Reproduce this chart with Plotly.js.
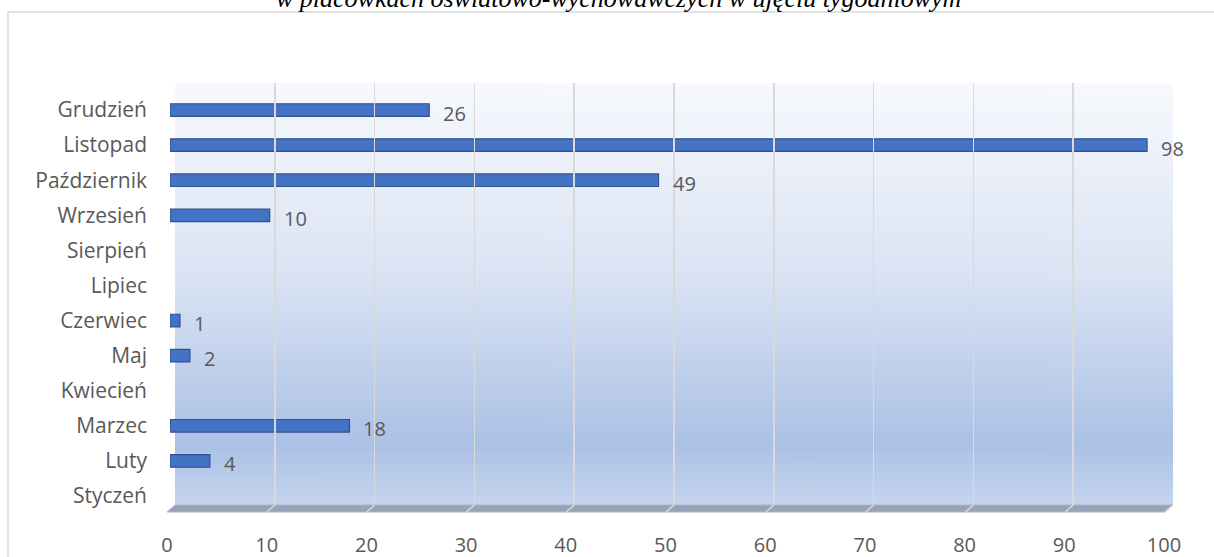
<!DOCTYPE html>
<html>
<head>
<meta charset="utf-8">
<script src="https://cdn.plot.ly/plotly-3.0.1.min.js"></script>
<style>html,body{margin:0;padding:0;background:#fff;}#chart{width:1214px;height:557px;}</style>
</head>
<body>
<div id="chart"></div>
<script>
// ---- data ----
const months = ["Styczeń","Luty","Marzec","Kwiecień","Maj","Czerwiec","Lipiec","Sierpień","Wrzesień","Październik","Listopad","Grudzień"];
const counts = [null, 4, 18, null, 2, 1, null, null, 10, 49, 98, 26];
const xTicks = [0,10,20,30,40,50,60,70,80,90,100];
const titleText = "w placówkach oświatowo-wychowawczych w ujęciu tygodniowym";

// ---- geometry helpers (pixels -> paper) ----
const W = 1214, H = 557;
const px = x => x / W;
const py = y => 1 - y / H;

// background gradient image
const cv = document.createElement('canvas');
cv.width = 4; cv.height = 400;
const cx = cv.getContext('2d');
const g = cx.createLinearGradient(0, 0, 0, 400);
g.addColorStop(0, '#f7f9fd');
g.addColorStop(0.45, '#dbe4f4');
g.addColorStop(0.86, '#abc1e5');
g.addColorStop(1, '#c6d5ee');
cx.fillStyle = g; cx.fillRect(0, 0, 4, 400);
const bgURL = cv.toDataURL();

const font = "'Open Sans', sans-serif";
const txtColor = '#595959';

const trace = {
  type: 'bar', orientation: 'h',
  y: months, x: counts,
  xaxis: 'x', yaxis: 'y',
  marker: {color: '#4472c4', line: {color: '#2f528f', width: 1.2}},
  hoverinfo: 'skip', showlegend: false
};

const annotations = [];
months.forEach((m, i) => {
  if (counts[i] !== null) {
    annotations.push({
      xref: 'x', yref: 'y', x: counts[i], y: m,
      text: String(counts[i]), showarrow: false,
      xanchor: 'left', xshift: 12, yshift: -3,
      font: {family: font, size: 20, color: txtColor}
    });
  }
});
annotations.push({
  xref: 'paper', yref: 'paper', x: px(618), y: py(15),
  xanchor: 'center', yanchor: 'bottom',
  text: '<i>' + titleText + '</i>', showarrow: false,
  font: {family: "'Liberation Serif', serif", size: 26, color: '#000'}
});

const shapes = [
  // outer chart border
  {type: 'rect', xref: 'paper', yref: 'paper', x0: px(8), x1: px(1240), y0: py(12), y1: py(600),
   line: {color: '#d9d9d9', width: 1.5}, fillcolor: 'rgba(0,0,0,0)', layer: 'below'},
  // floor
  {type: 'path', xref: 'paper', yref: 'paper',
   path: `M ${px(175)} ${py(505)} L ${px(1173)} ${py(505)} L ${px(1165)} ${py(512)} L ${px(167)} ${py(512)} Z`,
   fillcolor: '#97a3b7', line: {color: '#aab5c6', width: 1}, layer: 'below'}
];
xTicks.forEach(v => {
  shapes.push({type: 'line', xref: 'x2', yref: 'paper', xsizemode: 'pixel', xanchor: v,
    x0: 0, x1: -8, y0: py(505), y1: py(512), line: {color: '#d9d9d9', width: 1.5}});
});

const layout = {
  width: W, height: H,
  margin: {l: 0, r: 0, t: 0, b: 0},
  paper_bgcolor: '#ffffff', plot_bgcolor: 'rgba(0,0,0,0)',
  bargap: 0.64,
  showlegend: false,
  xaxis: {
    domain: [px(170), px(1167)], range: [0, 100], anchor: 'y',
    tickvals: xTicks, showgrid: false, zeroline: false, showline: false,
    ticks: '', ticklabelstandoff: 17, ticklabelshift: -3,
    tickfont: {family: font, size: 20, color: txtColor}, fixedrange: true
  },
  yaxis: {
    domain: [py(513.5), py(92.5)], anchor: 'x', type: 'category',
    categoryorder: 'array', categoryarray: months,
    showgrid: false, zeroline: false, showline: false, ticks: '',
    ticklabelstandoff: 22,
    tickfont: {family: font, size: 21, color: txtColor}, fixedrange: true
  },
  xaxis2: {
    domain: [px(175), px(1173)], range: [0, 100], anchor: 'y2',
    tickvals: xTicks, showticklabels: false, showgrid: true,
    gridcolor: '#d9d9d9', gridwidth: 1.5, zeroline: false, showline: false, ticks: ''
  },
  yaxis2: {
    domain: [py(505), py(83)], range: [0, 1], anchor: 'x2',
    showticklabels: false, showgrid: false, zeroline: false, showline: false, ticks: ''
  },
  images: [{
    source: bgURL, xref: 'paper', yref: 'paper',
    x: px(175), y: py(83), sizex: px(1173) - px(175), sizey: py(83) - py(505),
    xanchor: 'left', yanchor: 'top', sizing: 'stretch', layer: 'below'
  }],
  shapes: shapes,
  annotations: annotations
};

const dummy = {type: 'scatter', x: [], y: [], xaxis: 'x2', yaxis: 'y2', showlegend: false, hoverinfo: 'skip'};

Plotly.newPlot('chart', [dummy, trace], layout, {displayModeBar: false, staticPlot: true});
</script>
</body>
</html>
